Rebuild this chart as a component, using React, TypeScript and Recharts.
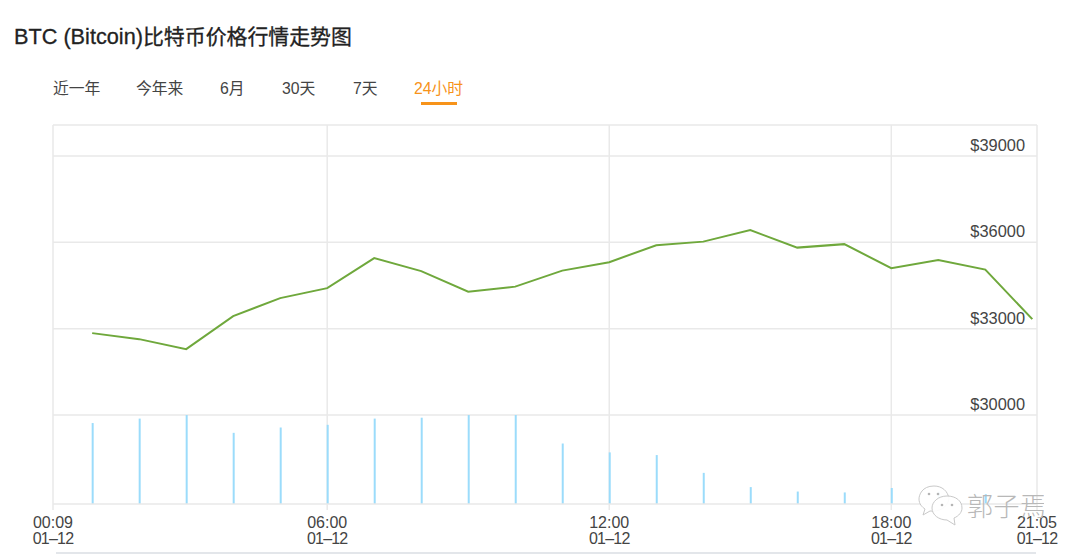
import React from 'react';
import { ComposedChart, Line, Bar, XAxis, YAxis, CartesianGrid, ReferenceLine } from 'recharts';

const hours = [60, 120, 180, 240, 300, 360, 420, 480, 540, 600, 660, 720, 780, 840, 900, 960, 1020, 1080, 1140, 1200, 1260];
const prices = [32844, 32635, 32287, 33434, 34060, 34408, 35450, 35000, 34286, 34460, 35016, 35310, 35900, 36024, 36424, 35816, 35937, 35103, 35381, 35051, 33330];
const volumes = [91, 96, 100, 80, 86, 89, 96, 97, 100, 100, 68, 58, 55, 35, 19, 14, 13, 18, 14, 11, 0];
const xTicks = [10, 360, 720, 1080, 1266];
const xTickLabels = ['00:09', '06:00', '12:00', '18:00', '21:05'];
const dateLabel = '01–12';
const priceTicks = [30000, 33000, 36000, 39000];
const tabs = ['近一年', '今年来', '6月', '30天', '7天', '24小时'];
const tabLeft = [53, 136, 220, 282, 353, 414];

const PRICE_MIN = 26906;
const PRICE_MAX = 40077;
const VOLUME_MAX = 426;
const FONT = '"Liberation Sans", "Noto Sans CJK SC", sans-serif';
const GRID = '#e9e9e9';

const data = hours.map((m, i) => ({ m, price: prices[i], volume: volumes[i] }));

const XTick = (props: any) => {
  const { x, y, payload } = props;
  const idx = xTicks.indexOf(payload.value);
  return (
    <text x={x} textAnchor="middle" fill="#444" fontSize={16} fontFamily={FONT}>
      <tspan x={x} y={y + 16}>{xTickLabels[idx]}</tspan>
      <tspan x={x} y={y + 32} letterSpacing={-0.8}>{dateLabel}</tspan>
    </text>
  );
};

const YTick = (props: any) => {
  const { y, payload } = props;
  return (
    <text x={1025} y={y - 5} textAnchor="end" fill="#444" fontSize={16.4} fontFamily={FONT}>
      {'$' + payload.value}
    </text>
  );
};

const Watermark = () => (
  <svg width={130} height={50} style={{ position: 'absolute', left: 914, top: 484 }}>
    <g fill="rgba(255,255,255,0.92)" stroke="#c9c9c9" strokeWidth={1}>
      <path d="M 20 2 C 8 2 5 11 5 15 C 5 20 8 23 11 25 L 9 31 L 16 27 C 25 28 33 24 35 15 C 34 7 28 2 20 2 Z" />
      <path d="M 33 12 C 24 12 18 18 18 24 C 18 31 25 36 33 36 L 41 41 L 40 34 C 45 32 48 28 48 24 C 48 17 42 12 33 12 Z" />
    </g>
    <g fill="#b5b5b5">
      <circle cx={15} cy={10} r={1.3} />
      <circle cx={24} cy={10} r={1.3} />
      <circle cx={28} cy={21} r={1.3} />
      <circle cx={38} cy={21} r={1.3} />
    </g>
    <text x={53} y={32} fontSize={26} fill="#b8b8b8" letterSpacing={0.5} fontFamily='"Noto Sans CJK SC", sans-serif' fontWeight={300}>
      郭子焉
    </text>
  </svg>
);

export default function App() {
  return (
    <div style={{ position: 'absolute', left: 0, top: 0, width: 1080, height: 554, background: '#fff', overflow: 'hidden', fontFamily: FONT }}>
      <div style={{ position: 'absolute', left: 14, top: 22, lineHeight: '26px', color: '#222', whiteSpace: 'nowrap', WebkitTextStroke: '0.3px #222' }}>
        <span style={{ fontSize: 21.7 }}>BTC (Bitcoin)</span>
        <span style={{ fontSize: 20.9, fontFamily: '"Noto Sans CJK SC", sans-serif' }}>比特币价格行情走势图</span>
      </div>
      {tabs.map((t, i) => (
        <div key={t} style={{ position: 'absolute', left: tabLeft[i], top: 79, fontSize: 15.8, lineHeight: '20px', whiteSpace: 'nowrap', color: i === 5 ? '#f7931a' : '#444' }}>
          {t}
        </div>
      ))}
      <div style={{ position: 'absolute', left: 421, top: 102, width: 36, height: 3, background: '#f7931a' }} />
      <div style={{ position: 'absolute', left: 56, top: 552, width: 980, height: 2, background: '#e3e6ea' }} />
      <div style={{ position: 'absolute', left: 0, top: 0 }}>
        <ComposedChart width={1080} height={554} data={data} margin={{ top: 125, right: 43, bottom: 0, left: 53 }}>
          <CartesianGrid yAxisId="price" xAxisId="time" stroke={GRID} strokeWidth={1.5} verticalValues={[360, 720, 1080]} horizontalValues={priceTicks} />
          <XAxis xAxisId="time" dataKey="m" type="number" scale="linear" domain={[10, 1266]} ticks={xTicks} interval={0} tick={<XTick />} tickLine={{ stroke: GRID, strokeWidth: 1.5 }} tickSize={6} axisLine={{ stroke: GRID, strokeWidth: 1.5 }} height={50} />
          <YAxis yAxisId="price" orientation="right" mirror type="number" domain={[PRICE_MIN, PRICE_MAX]} ticks={priceTicks} tick={<YTick />} tickLine={false} axisLine={false} width={1} allowDataOverflow />
          <YAxis yAxisId="volume" hide type="number" domain={[0, VOLUME_MAX]} />
          <ReferenceLine yAxisId="price" xAxisId="time" y={PRICE_MAX} stroke={GRID} strokeWidth={1.5} />
          <ReferenceLine yAxisId="price" xAxisId="time" x={10} stroke={GRID} strokeWidth={1.5} />
          <ReferenceLine yAxisId="price" xAxisId="time" x={1266} stroke={GRID} strokeWidth={1.5} />
          <Bar yAxisId="volume" xAxisId="time" dataKey="volume" fill="#9bdcfb" barSize={2} isAnimationActive={false} />
          <Line yAxisId="price" xAxisId="time" dataKey="price" type="linear" stroke="#6fa83c" strokeWidth={2} dot={false} activeDot={false} isAnimationActive={false} />
        </ComposedChart>
      </div>
      <Watermark />
    </div>
  );
}
